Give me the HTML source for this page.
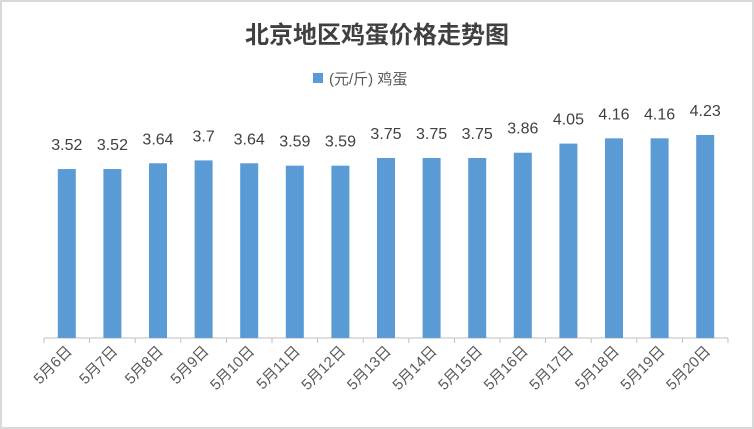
<!DOCTYPE html>
<html><head><meta charset="utf-8"><style>
html,body{margin:0;padding:0;background:#fff}
svg{display:block;font-family:"Liberation Sans","Noto Sans CJK SC",sans-serif}
</style></head><body>
<svg width="754" height="429" viewBox="0 0 754 429" xmlns="http://www.w3.org/2000/svg">
<rect x="1" y="1" width="752" height="427" fill="#fff" stroke="#d9d9d9" stroke-width="2"/>
<text x="377" y="43" text-anchor="middle" font-size="24" font-weight="bold" fill="#404040" font-family="'Noto Sans CJK SC',sans-serif">北京地区鸡蛋价格走势图</text>
<rect x="313" y="73" width="10" height="10" fill="#5b9bd5"/>
<text x="329" y="84" font-size="15" fill="#595959">(元/斤) 鸡蛋</text>
<g id="chart"></g>
</svg>
<script>
const v=[3.52,3.52,3.64,3.7,3.64,3.59,3.59,3.75,3.75,3.75,3.86,4.05,4.16,4.16,4.23];
const lab=["3.52","3.52","3.64","3.7","3.64","3.59","3.59","3.75","3.75","3.75","3.86","4.05","4.16","4.16","4.23"];
const g=document.getElementById('chart');
const x0=44,w=45.6,base=338,k=48;
let s=`<line x1="${x0}" y1="${base}" x2="${x0+15*w}" y2="${base}" stroke="#bfbfbf"/>`;
for(let i=0;i<=15;i++){const x=x0+i*w;s+=`<line x1="${x}" y1="${base}" x2="${x}" y2="${base+5}" stroke="#bfbfbf"/>`;}
v.forEach((d,i)=>{const c=x0+i*w+w/2,h=d*k;
s+=`<rect x="${c-9}" y="${base-h}" width="18" height="${h}" fill="#5b9bd5"/>`;
s+=`<text x="${c}" y="${base-h-19}" text-anchor="middle" font-size="16" fill="#404040">${lab[i]}</text>`;
s+=`<text transform="translate(${c+6},${base+14}) rotate(-45)" text-anchor="end" font-size="15" fill="#595959">5月${i+6}日</text>`;});
g.innerHTML=s;
</script>
</body></html>
